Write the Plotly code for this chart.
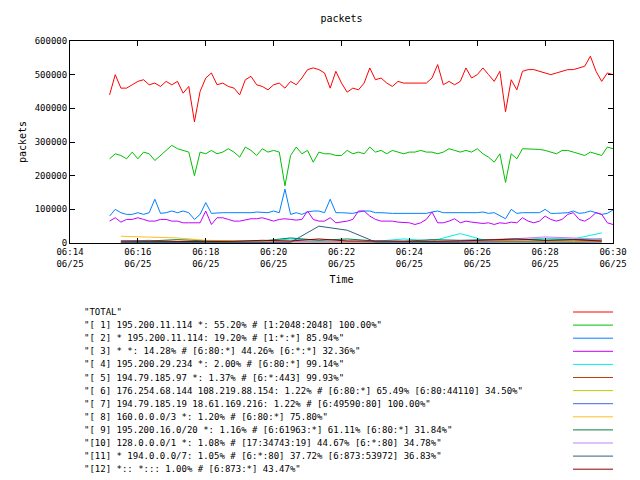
import plotly.graph_objects as go
import pandas as pd

total = [440,500,460,460,470,480,485,470,475,465,
         480,470,480,445,465,360,450,490,505,470,
         475,465,460,440,485,495,470,465,455,470,
         475,460,480,470,490,515,520,515,505,460,
         510,475,448,460,455,475,520,485,490,475,
         465,480,475,475,475,475,475,490,530,470,
         480,470,480,520,490,500,520,500,480,510,
         390,485,455,510,515,515,510,505,500,505,
         510,515,515,520,525,555,510,480,505,500]
s1 = [250,265,260,250,270,250,270,265,245,260,
      275,290,280,275,270,200,270,265,275,265,
      270,280,270,255,285,275,260,280,270,275,
      270,170,260,285,265,275,240,270,265,265,
      260,260,275,265,270,265,285,270,275,265,
      275,270,265,270,270,275,270,270,265,270,
      280,275,270,275,270,280,265,255,240,265,
      180,265,250,280,280,280,278,275,270,265,
      275,275,270,265,260,270,265,260,285,280]
s2 = [80,100,90,85,85,90,85,90,130,88,
      90,95,90,95,90,70,85,120,88,90,
      90,90,90,88,88,90,92,90,90,95,
      90,160,85,90,85,92,95,95,90,130,
      90,90,88,88,92,95,95,90,90,88,
      88,88,88,88,88,88,88,92,95,90,
      90,88,88,90,90,90,92,88,90,80,
      72,100,88,90,90,90,90,100,88,88,
      90,90,95,88,90,95,90,85,88,98]
s3 = [65,75,62,70,70,75,70,65,65,70,
      70,65,65,60,60,60,60,95,55,75,
      75,70,65,65,68,72,72,75,70,65,
      70,72,70,68,70,95,70,65,65,75,
      60,62,65,70,95,95,80,70,65,65,
      65,62,62,60,55,60,70,92,60,60,
      65,72,60,65,62,60,58,60,55,60,
      58,62,60,75,65,60,65,80,70,65,
      70,85,90,70,65,75,90,85,60,55]
# small series sampled every 50 s (thousands)
s4 = [5,8,4,3,5,4,12,6,4,5,12,6,28,5,10,14,12,30]
s5 = [2,3,2,2,3,2,4,3,2,3,4,3,4,8,6,5,6,8]
s6 = [3,4,3,5,3,4,3,4,3,3,4,3,4,5,4,3,4,5]
s7 = [4,3,4,3,2,3,4,3,5,3,2,3,4,3,5,4,3,4]
s8 = [20,18,15,8,6,5,6,5,6,5,4,5,6,5,6,5,6,5]
s9 = [5,6,10,6,5,6,15,8,12,6,5,10,8,10,12,8,10,12]
s10 = [3,4,3,4,3,2,4,3,3,4,3,5,4,8,12,18,15,10]
s11 = [2,2,2,3,2,3,2,50,38,3,2,3,2,3,2,3,2,3]
s12 = [6,5,6,4,5,8,6,12,6,5,6,5,6,10,12,8,10,6]

names = ['"TOTAL"',
 '"[ 1] 195.200.11.114 *: 55.20% # [1:2048:2048] 100.00%"',
 '"[ 2] * 195.200.11.114: 19.20% # [1:*:*] 85.94%"',
 '"[ 3] * *: 14.28% # [6:80:*] 44.26% [6:*:*] 32.36%"',
 '"[ 4] 195.200.29.234 *: 2.00% # [6:80:*] 99.14%"',
 '"[ 5] 194.79.185.97 *: 1.37% # [6:*:443] 99.93%"',
 '"[ 6] 176.254.68.144 108.219.88.154: 1.22% # [6:80:*] 65.49% [6:80:44110] 34.50%"',
 '"[ 7] 194.79.185.19 18.61.169.216: 1.22% # [6:49590:80] 100.00%"',
 '"[ 8] 160.0.0.0/3 *: 1.20% # [6:80:*] 75.80%"',
 '"[ 9] 195.200.16.0/20 *: 1.16% # [6:61963:*] 61.11% [6:80:*] 31.84%"',
 '"[10] 128.0.0.0/1 *: 1.08% # [17:34743:19] 44.67% [6:*:80] 34.78%"',
 '"[11] * 194.0.0.0/7: 1.05% # [6:*:80] 37.72% [6:873:53972] 36.83%"',
 '"[12] *:: *::: 1.00% # [6:873:*] 43.47%"']
colors = ["#ff0000","#00c000","#0080ff","#c000ff","#00eeee","#c04000","#c8c800",
          "#4169e1","#ffc020","#008040","#c080ff","#306080","#8b0000"]

t_big = pd.date_range("2024-06-25 06:15:10", periods=len(total), freq="10s")
t_small = pd.date_range("2024-06-25 06:15:30", periods=len(s4), freq="50s")

fig = go.Figure()
series = [(t_big, total), (t_big, s1), (t_big, s2), (t_big, s3),
          (t_small, s4), (t_small, s5), (t_small, s6), (t_small, s7), (t_small, s8),
          (t_small, s9), (t_small, s10), (t_small, s11), (t_small, s12)]
for k, (tt, vals) in enumerate(series):
    fig.add_trace(go.Scatter(x=tt, y=[v*1000 for v in vals], mode="lines",
                             line=dict(color=colors[k], width=1), showlegend=False))

font = "DejaVu Sans Mono"
OFF = 8  # page body margin
W, H = 640 - OFF, 480 - OFF
L, R, T, B = 70 - OFF, 613 - OFF, 41 - OFF, 243 - OFF
for k, nm in enumerate(names):
    Y = 312 + k*13.1 - OFF
    yp = (B - Y)/(B - T)
    fig.add_annotation(x=(82-OFF-L)/(R-L), y=yp, xref="paper", yref="paper", text=nm,
                       showarrow=False, xanchor="left", yanchor="middle",
                       font=dict(family=font, size=9, color="black"))
    fig.add_shape(type="line", xref="paper", yref="paper",
                  x0=(573-OFF-L)/(R-L), x1=(613-OFF-L)/(R-L), y0=yp, y1=yp,
                  line=dict(color=colors[k], width=1))

tickvals = pd.date_range("2024-06-25 06:14", periods=9, freq="2min")
ticktext = [f"{d:%H:%M}<br>{d:%m/%d}" for d in tickvals]
fig.update_layout(
    width=W, height=H, margin=dict(l=L, r=W-R, t=T, b=H-B),
    paper_bgcolor="white", plot_bgcolor="white",
    font=dict(family=font, size=9, color="black"),
    title=dict(text="packets", x=(L+R)/2/W, xanchor="center", y=1-(18-OFF)/H, yanchor="middle",
               font=dict(size=10)),
    xaxis=dict(range=[tickvals[0], tickvals[-1]], tickvals=tickvals, ticktext=ticktext,
               showgrid=False, zeroline=False, showline=True, mirror="ticks", linecolor="black",
               ticks="inside", ticklen=5, tickcolor="black",
               title=dict(text="Time", standoff=8, font=dict(size=10))),
    yaxis=dict(range=[0, 600000], dtick=100000, tickformat="d", showgrid=False, zeroline=False,
               showline=True, mirror="ticks", linecolor="black", ticks="inside", ticklen=5,
               tickcolor="black", title=dict(text="packets", standoff=6, font=dict(size=10))),
)
fig.write_html("out.html")
